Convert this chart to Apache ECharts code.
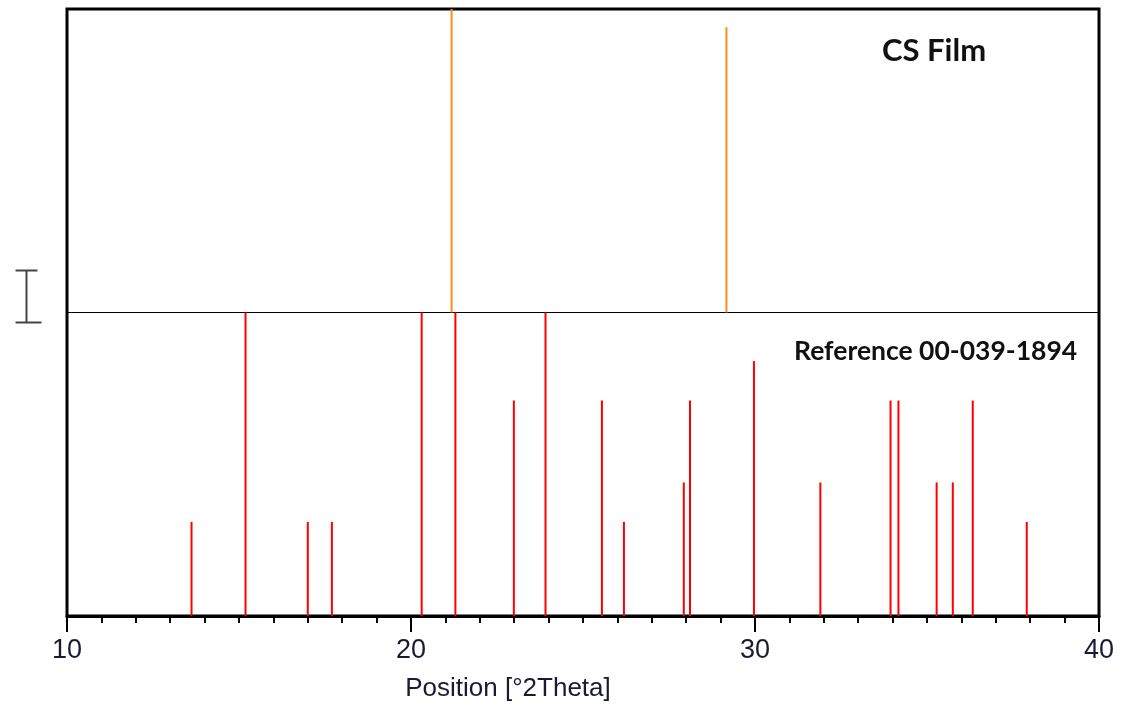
<!DOCTYPE html>
<html>
<head>
<meta charset="utf-8">
<title>CS Film XRD</title>
<script src="https://cdn.jsdelivr.net/npm/echarts@6/dist/echarts.min.js"></script>
<style>
  html, body { margin: 0; padding: 0; background: #fff; }
  #xrd_chart { width: 1121px; height: 707px; }
</style>
</head>
<body>
<div id="xrd_chart"></div>
<script>
// peak positions [°2Theta] and relative intensity (0-100)
const filmPos = [21.18, 29.17];
const filmInt = [100, 94];

const refPos = [13.62, 15.19, 17.0, 17.7, 20.31, 21.29, 22.99, 23.91, 25.55, 26.19,
  27.93, 28.11, 29.97, 31.9, 33.94, 34.17, 35.28, 35.75, 36.33, 37.9];
const refInt = [31, 100, 31, 31, 100, 100, 71, 100, 71, 31,
  44, 71, 84, 44, 71, 71, 44, 44, 71, 31];

const xTicks = [10, 20, 30, 40];

// the film pattern sits on top of the reference pattern
const filmBase = 100;
const refBase = 0;

const chartInstance = echarts.init(document.getElementById("xrd_chart"));

function stickItem(params, api) {
  const base = api.value(2);
  const p0 = api.coord([api.value(0), base]);
  const p1 = api.coord([api.value(0), base + api.value(1)]);
  return {
    type: "line",
    shape: { x1: p0[0], y1: p0[1], x2: p1[0], y2: p1[1] },
    style: { stroke: api.visual("color"), lineWidth: 2 },
  };
}

const option = {
  animation: false,
  backgroundColor: "#fff",
  title: [
    {
      text: "CS Film",
      left: 877,
      top: 30,
      textStyle: {
        fontFamily: "Lato",
        fontWeight: "bold",
        fontSize: 31,
        color: "#111",
      },
    },
    {
      text: "Reference 00-039-1894",
      left: 789,
      top: 333,
      textStyle: {
        fontFamily: "Lato",
        fontWeight: "bold",
        fontSize: 26.5,
        color: "#111",
      },
    },
  ],
  grid: {
    left: 67,
    right: 22,
    top: 9,
    bottom: 91,
    show: true,
    borderColor: "#000",
    borderWidth: 3,
  },
  xAxis: {
    type: "value",
    min: 10,
    max: 40,
    interval: 10,
    name: "Position [°2Theta]",
    nameLocation: "middle",
    nameGap: 60,
    nameTextStyle: {
      fontFamily: "Liberation Sans",
      fontSize: 26,
      color: "#1a1a33",
      // the title sits left of the axis centre
      padding: [0, 150, 0, 0],
    },
    axisLine: { show: true, lineStyle: { color: "#000", width: 3 } },
    axisTick: { show: true, length: 16, lineStyle: { color: "#000", width: 2 } },
    minorTick: { show: true, splitNumber: 10, length: 7, lineStyle: { color: "#000", width: 2 } },
    splitLine: { show: false },
    axisLabel: {
      margin: 21,
      fontFamily: "Liberation Sans",
      fontSize: 27,
      color: "#1a1a33",
      formatter: (v) => (xTicks.includes(v) ? String(v) : ""),
    },
  },
  yAxis: {
    type: "value",
    min: 0,
    max: 200,
    interval: 100,
    axisLine: { show: false },
    axisTick: { show: false },
    axisLabel: { show: false },
    splitLine: { show: true, lineStyle: { color: "#000", width: 1 } },
  },
  // intensity scale bar on the left
  graphic: [
    {
      type: "group",
      left: 13,
      top: 268,
      children: [
        { type: "line", shape: { x1: 0, y1: 0, x2: 22, y2: 0 }, style: { stroke: "#444", lineWidth: 2 } },
        { type: "line", shape: { x1: 11, y1: 0, x2: 11, y2: 52 }, style: { stroke: "#444", lineWidth: 2 } },
        { type: "line", shape: { x1: 0, y1: 52, x2: 26, y2: 52 }, style: { stroke: "#444", lineWidth: 2 } },
      ],
    },
  ],
  series: [
    {
      name: "CS Film",
      type: "custom",
      renderItem: stickItem,
      itemStyle: { color: "#ff8c1a" },
      encode: { x: 0, y: 1 },
      data: filmPos.map((p, i) => [p, filmInt[i], filmBase]),
      z: 3,
    },
    {
      name: "Reference 00-039-1894",
      type: "custom",
      renderItem: stickItem,
      itemStyle: { color: "#ff0000" },
      encode: { x: 0, y: 1 },
      data: refPos.map((p, i) => [p, refInt[i], refBase]),
      z: 3,
    },
  ],
};

chartInstance.setOption(option);
</script>
</body>
</html>
